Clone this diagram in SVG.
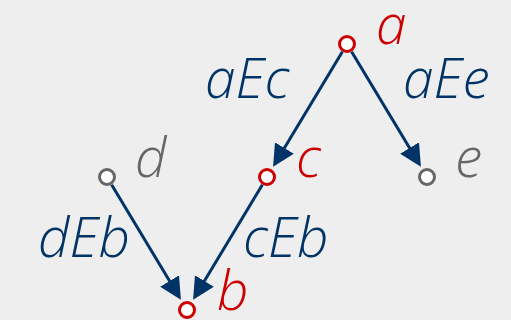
<svg xmlns="http://www.w3.org/2000/svg" width="511" height="320" viewBox="0 0 511 320">
<style>
.edge{stroke:#003366;stroke-width:3;fill:none;marker-end:url(#arr)}
.node{fill:#ffffff;stroke-width:3}
.red{stroke:#cc0000}
.grey{stroke:#666666}
text{font-family:"Open Sans","Noto Sans","DejaVu Sans",sans-serif;font-style:italic;font-weight:300;font-size:55px}
.lbl{fill:#003366}
.tr{fill:#cc0000}
.tg{fill:#666666}
</style>
<defs>
<marker id="arr" markerUnits="userSpaceOnUse" markerWidth="24" markerHeight="22" refX="12" refY="11" orient="auto">
<path d="M0,0 L22,11 L0,22 z" fill="#003366"/>
</marker>
</defs>
<rect width="511" height="320" fill="#eeeeee"/>
<g id="edges">
<line class="edge" x1="342.36" y1="51.71" x2="278.23" y2="158.28"/>
<line class="edge" x1="351.64" y1="51.71" x2="415.77" y2="158.28"/>
<line class="edge" x1="111.64" y1="184.71" x2="175.77" y2="291.28"/>
<line class="edge" x1="262.36" y1="184.71" x2="198.23" y2="291.28"/>
<text class="lbl" x="205" y="98">aEc</text>
<text class="lbl" x="403" y="98">aEe</text>
<text class="lbl" x="38" y="257">dEb</text>
<text class="lbl" x="243" y="257">cEb</text>
</g>
<g id="a"><circle class="node red" cx="347" cy="44" r="7.5"/><text class="tr" x="376" y="44">a</text></g>
<g id="c"><circle class="node red" cx="267" cy="177" r="7.5"/><text class="tr" x="296" y="177">c</text></g>
<g id="e"><circle class="node grey" cx="427" cy="177" r="7.5"/><text class="tg" x="455" y="177">e</text></g>
<g id="d"><circle class="node grey" cx="107" cy="177" r="7.5"/><text class="tg" x="135" y="177">d</text></g>
<g id="b"><circle class="node red" cx="187" cy="310" r="7.5"/><text class="tr" x="217" y="310">b</text></g>
</svg>
